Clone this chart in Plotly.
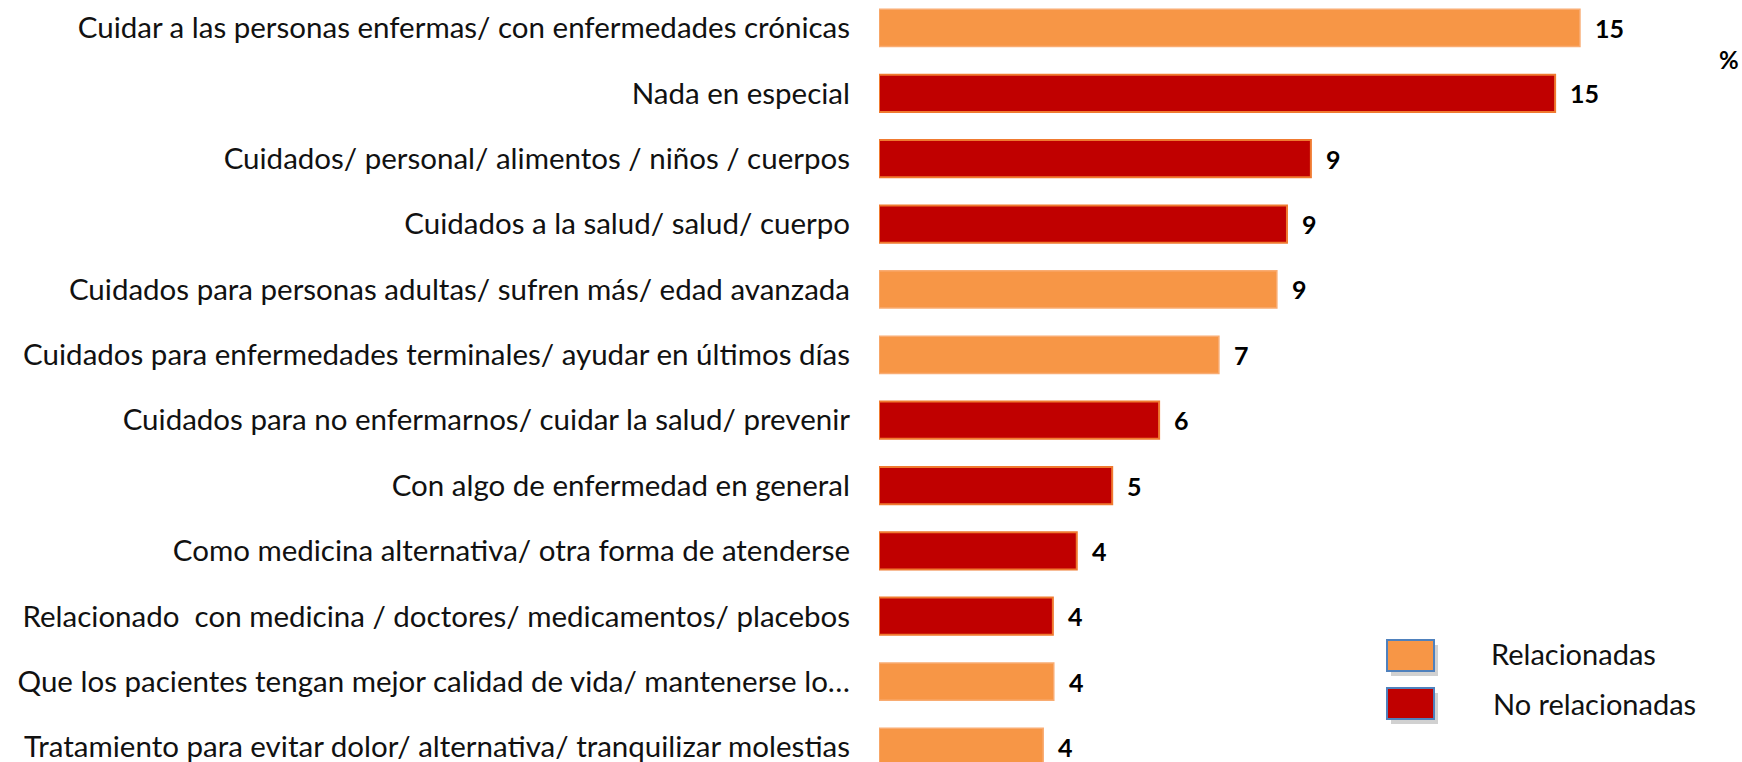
import plotly.graph_objects as go

categorias = [
    "Cuidar a las personas enfermas/ con enfermedades crónicas",
    "Nada en especial",
    "Cuidados/ personal/ alimentos / niños / cuerpos",
    "Cuidados a la salud/ salud/ cuerpo",
    "Cuidados para personas adultas/ sufren más/ edad avanzada",
    "Cuidados para enfermedades terminales/ ayudar en últimos días",
    "Cuidados para no enfermarnos/ cuidar la salud/ prevenir",
    "Con algo de enfermedad en general",
    "Como medicina alternativa/ otra forma de atenderse",
    "Relacionado  con medicina / doctores/ medicamentos/ placebos",
    "Que los pacientes tengan mejor calidad de vida/ mantenerse lo…",
    "Tratamiento para evitar dolor/ alternativa/ tranquilizar molestias",
]
porcentajes = [15.24, 14.70, 9.39, 8.87, 8.65, 7.39, 6.09, 5.07, 4.30, 3.78, 3.80, 3.57]
etiquetas = ["15", "15", "9", "9", "9", "7", "6", "5", "4", "4", "4", "4"]
relacionada = [True, False, False, False, True, True, False, False, False, False, True, True]

NARANJA = "#F79646"
ROJO = "#C00000"

# la figura ocupa toda la ventana (se quita el margen del body al final)
W, H = 1742, 762
L, R = 879, 42
PW = W - L - R

fig = go.Figure()

rel_y = [c for c, r in zip(categorias, relacionada) if r]
rel_x = [v for v, r in zip(porcentajes, relacionada) if r]
norel_y = [c for c, r in zip(categorias, relacionada) if not r]
norel_x = [v for v, r in zip(porcentajes, relacionada) if not r]

fig.add_trace(go.Bar(x=rel_x, y=rel_y, orientation="h", name="Relacionadas",
                     marker=dict(color=NARANJA, line=dict(color="#F9AC72", width=1.5))))
fig.add_trace(go.Bar(x=norel_x, y=norel_y, orientation="h", name="No relacionadas",
                     marker=dict(color=ROJO, line=dict(color="#F07A30", width=2))))

# etiquetas de valor
for c, v, t in zip(categorias, porcentajes, etiquetas):
    fig.add_annotation(x=v, y=c, text="<b>%s</b>" % t, showarrow=False,
                       xanchor="left", yanchor="middle", xshift=13,
                       font=dict(size=25, color="black"))

# coordenadas de pagina -> paper
def px_x(x):
    return (x - L) / PW

def px_y(y):
    return 1 - y / H

fig.add_annotation(x=px_x(1717), y=px_y(59), xref="paper", yref="paper", text="<b>%</b>",
                   xanchor="left", yanchor="middle",
                   showarrow=False, font=dict(size=24, color="black"))

fig.update_layout(
    width=W, height=H,
    margin=dict(l=L, r=R, t=0, b=0, pad=0),
    paper_bgcolor="white", plot_bgcolor="white",
    barmode="overlay", bargap=0.43,
    showlegend=False,
    font=dict(family="Lato, 'Open Sans', sans-serif", color="#111111"),
)
# fila 0 centrada en y=28, fila 11 en y=747
fig.update_xaxes(range=[0, 17.85], visible=False, automargin=False)
fig.update_yaxes(categoryorder="array", categoryarray=categorias,
                 range=[11.23, -0.428], showgrid=False, zeroline=False,
                 showline=False, ticks="", ticklabelstandoff=28, automargin=False,
                 tickfont=dict(size=29.5, color="#111111"))

# leyenda dibujada a mano (cuadros grandes con sombra)
def caja(x0, y0, x1, y1, color):
    fig.add_shape(type="rect", xref="paper", yref="paper",
                  x0=px_x(x0 + 4), x1=px_x(x1 + 4), y0=px_y(y1 + 5), y1=px_y(y0 + 5),
                  fillcolor="rgba(0,0,0,0.18)", line=dict(width=0), layer="below")
    fig.add_shape(type="rect", xref="paper", yref="paper",
                  x0=px_x(x0), x1=px_x(x1), y0=px_y(y1), y1=px_y(y0),
                  fillcolor=color, line=dict(color="#4F81BD", width=2))

caja(1387, 640, 1434, 671, NARANJA)
caja(1387, 688, 1434, 719, ROJO)
fig.add_annotation(x=px_x(1489), y=px_y(653), xref="paper", yref="paper", text="Relacionadas",
                   showarrow=False, xanchor="left", yanchor="middle",
                   font=dict(size=29, color="#111111"))
fig.add_annotation(x=px_x(1491), y=px_y(703), xref="paper", yref="paper", text="No relacionadas",
                   showarrow=False, xanchor="left", yanchor="middle",
                   font=dict(size=29, color="#111111"))

fig.write_html("out.html", config={"displayModeBar": False},
               post_script="document.body.style.margin='0';document.body.style.overflow='hidden';")
